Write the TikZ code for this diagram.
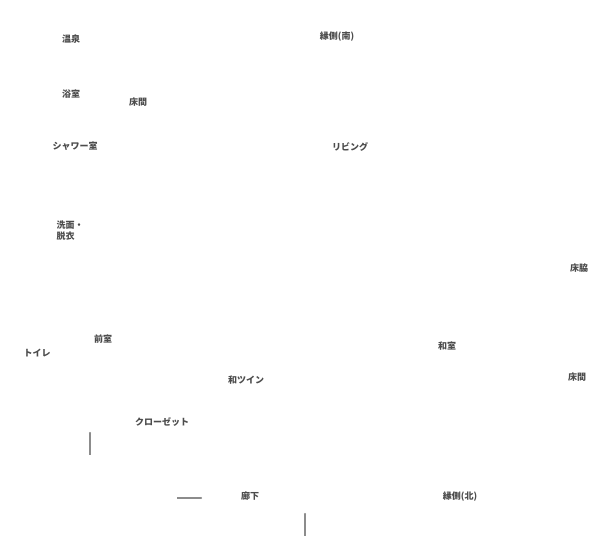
\documentclass[tikz,border=0pt]{standalone}
\usepackage{fontspec}
\newfontfamily\cjk{Noto Sans CJK JP}
\tikzset{every picture/.style={line width=0.75pt}}
\tikzset{room/.style={font=\cjk\bfseries\fontsize{9}{11}\selectfont, text=black!70, inner sep=1pt},
  flow/.style={draw=black!45, line width=1.2pt, -{Circle[length=2pt]}}}
\usetikzlibrary{arrows.meta}
\begin{document}
\begin{tikzpicture}[x=1pt,y=1pt,yscale=-1,xscale=1]
	\useasboundingbox (0,0) rectangle (606,537);

	% Text Node
	\node[room] (onsen) at (71,39) {温泉};
	\node[room] (engawaS) at (337,37) {縁側(南)};
	\node[room] (yokushitsu) at (71,94) {浴室};
	\node[room] (tokoA) at (138,102) {床間};
	\node[room] (shower) at (75,146) {シャワー室};
	\node[room] (living) at (350,147) {リビング};
	\node[room, align=left] (senmen) at (70,231) {洗面・\\脱衣};
	\node[room] (wakiB) at (579,268) {床脇};
	\node[room] (zenshitsu) at (103,339) {前室};
	\node[room] (toilet) at (37,353) {トイレ};
	\node[room] (washitsu) at (447,346) {和室};
	\node[room] (twin) at (246,380) {和ツイン};
	\node[room] (tokoB) at (577,377) {床間};
	\node[room] (closet) at (162,422) {クローゼット};
	\node[room] (rouka) at (250,496) {廊下};
	\node[room] (engawaN) at (460,497) {縁側(北)};

	% Straight Lines
	\coordinate (a1) at (90,455); \coordinate (a2) at (90,432);
	\coordinate (b1) at (177,498); \coordinate (b2) at (202,498);
	\coordinate (c1) at (305,536); \coordinate (c2) at (305,513);
	\draw[flow] (a1) -- (a2);
	\draw[flow] (b1) -- (b2);
	\draw[flow] (c1) -- (c2);

\end{tikzpicture}
\end{document}
